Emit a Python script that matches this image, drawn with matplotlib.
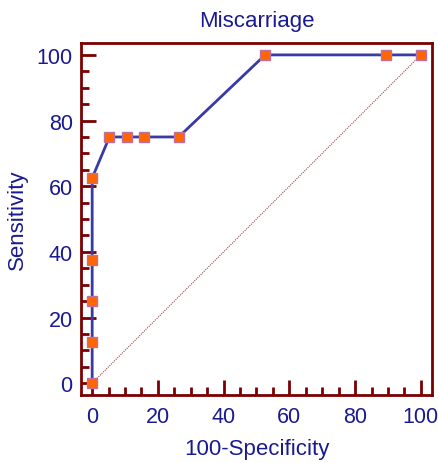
import matplotlib.pyplot as plt
from matplotlib.ticker import MultipleLocator

# ROC points (100-specificity, sensitivity)
fpr = [0, 0, 0, 0, 0, 5.26, 10.53, 15.79, 26.32, 52.63, 89.47, 100]
tpr = [0, 12.5, 25, 37.5, 62.5, 75, 75, 75, 75, 100, 100, 100]
ticks = [0, 20, 40, 60, 80, 100]

navy = '#1a1a90'
spine_col = '#7a0000'

plt.rcParams['font.family'] = ['Liberation Sans', 'DejaVu Sans']

fig = plt.figure(figsize=(4.39, 4.64), dpi=100)
ax = fig.add_axes([0.1845, 0.1466, 0.7995, 0.7584])

# reference diagonal
ax.plot([0, 100], [0, 100], color='#a04848', lw=0.8, ls=(0, (1, 1)), zorder=1)

ax.plot(fpr, tpr, color='#3a3aa6', lw=2, marker='s', ms=7,
        mfc='#ff6600', mec='#c070a0', mew=1, zorder=3, clip_on=False)

ax.set_xlim(-3.4, 103.4)
ax.set_ylim(-3.6, 103.6)
ax.set_xticks(ticks)
ax.set_yticks(ticks)
ax.xaxis.set_minor_locator(MultipleLocator(5))
ax.yaxis.set_minor_locator(MultipleLocator(5))

for s in ax.spines.values():
    s.set_color(spine_col)
    s.set_linewidth(2)

ax.tick_params(which='both', direction='in', color=spine_col, width=2,
               top=False, right=False, labelcolor=navy, labelsize=15.5)
ax.tick_params(axis='x', pad=8)
ax.tick_params(axis='y', pad=6)
ax.tick_params(which='major', length=11)
ax.tick_params(which='minor', length=6)

ax.set_title('Miscarriage', color=navy, fontsize=16, pad=12)
ax.set_xlabel('100-Specificity', color=navy, fontsize=16, labelpad=8)
ax.set_ylabel('Sensitivity', color=navy, fontsize=16, labelpad=6)

fig.savefig('out.png', dpi=100)
